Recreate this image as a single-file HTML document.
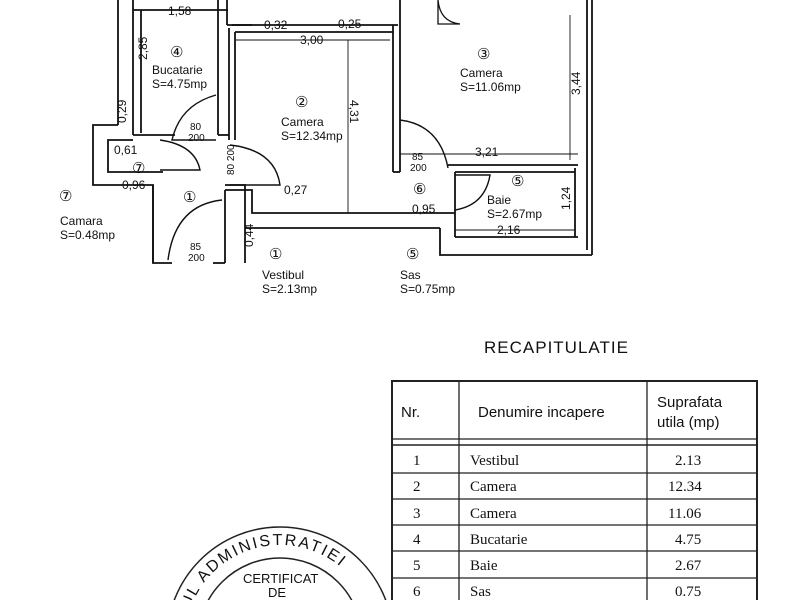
<!DOCTYPE html>
<html><head><meta charset="utf-8"><style>
html,body{margin:0;padding:0;background:#fff;width:800px;height:600px;overflow:hidden;}
svg{display:block}
text{font-family:"Liberation Sans",sans-serif;fill:#111}
.s{font-family:"Liberation Serif",serif}
</style></head><body>
<svg width="800" height="600" viewBox="0 0 800 600" xmlns="http://www.w3.org/2000/svg">
<g stroke="#111" stroke-width="1.8" fill="none">
<line x1="118" y1="0" x2="118" y2="125"/>
<line x1="133" y1="0" x2="133" y2="135"/>
<line x1="141" y1="10" x2="141" y2="133"/>
<line x1="133" y1="10" x2="228" y2="10"/>
<line x1="218" y1="0" x2="218" y2="135"/>
<line x1="227" y1="0" x2="227" y2="25"/>
<line x1="227" y1="25" x2="252" y2="25"/>
<line x1="229" y1="28" x2="229" y2="140"/>
<line x1="235" y1="32" x2="235" y2="140"/>
<line x1="133" y1="135" x2="175" y2="135"/>
<line x1="218" y1="135" x2="229" y2="135"/>
<polyline points="118,125 93,125 93,185 153,185 153,263 172,263"/>
<polyline points="133,140 108,140 108,172 163,172"/>
<line x1="232" y1="25" x2="398" y2="25"/>
<line x1="235" y1="32" x2="393" y2="32"/>
<line x1="393" y1="25" x2="393" y2="172"/>
<line x1="400" y1="0" x2="400" y2="172"/>
<line x1="393" y1="172" x2="400" y2="172"/>
<line x1="348" y1="40" x2="348" y2="213" stroke-width="0.9"/>
<line x1="235" y1="40" x2="390" y2="40" stroke-width="0.9"/>
<line x1="587" y1="0" x2="587" y2="250"/>
<line x1="592" y1="0" x2="592" y2="255"/>
<line x1="400" y1="154" x2="578" y2="154" stroke-width="0.9"/>
<line x1="448" y1="165" x2="578" y2="165"/>
<line x1="455" y1="172" x2="575" y2="172"/>
<line x1="575" y1="168" x2="575" y2="237"/>
<line x1="570" y1="15" x2="570" y2="160" stroke-width="0.9"/>
<path d="M438 0 Q440 22 460 24 L438 24 Z" stroke-width="1.3"/>
<line x1="455" y1="172" x2="455" y2="237"/>
<line x1="455" y1="237" x2="578" y2="237"/>
<line x1="455" y1="230" x2="575" y2="230" stroke-width="0.9"/>
<line x1="255" y1="213" x2="455" y2="213"/>
<line x1="245" y1="228" x2="440" y2="228"/>
<polyline points="440,228 440,255 592,255"/>
<polyline points="225,185 245,185 245,228"/>
<polyline points="225,190 252,190 252,213 255,213"/>
<line x1="225" y1="190" x2="225" y2="263"/>
<polyline points="213,263 225,263"/>
<line x1="245" y1="228" x2="245" y2="263"/>
<line x1="153" y1="185" x2="153" y2="263"/>
<path d="M216 95 Q180 105 172 140 L216 140" stroke-width="1.4"/>
<path d="M230 145 Q275 150 280 185 L230 185" stroke-width="1.4"/>
<path d="M222 200 Q175 205 168 260" stroke-width="1.4"/>
<path d="M160 140 Q195 145 200 170 L160 170" stroke-width="1.4"/>
<path d="M400 120 Q440 125 448 168" stroke-width="1.4"/>
<path d="M455 175 L490 175 Q485 205 455 210" stroke-width="1.4"/>
</g>
<g font-size="12">
<text x="168" y="15">1,58</text>
<text x="264" y="29">0,32</text>
<text x="338" y="28">0,25</text>
<text x="300" y="44">3,00</text>
<text x="147" y="60" transform="rotate(-90 147 60)">2,85</text>
<text x="170" y="57" font-size="15">④</text>
<text x="152" y="74">Bucatarie</text>
<text x="152" y="88">S=4.75mp</text>
<text x="295" y="107" font-size="15">②</text>
<text x="281" y="126">Camera</text>
<text x="281" y="140">S=12.34mp</text>
<text x="350" y="100" transform="rotate(90 350 100)">4,31</text>
<text x="477" y="59" font-size="15">③</text>
<text x="460" y="77">Camera</text>
<text x="460" y="91">S=11.06mp</text>
<text x="580" y="95" transform="rotate(-90 580 95)">3,44</text>
<text x="475" y="156">3,21</text>
<text x="126" y="123" transform="rotate(-90 126 123)">0,29</text>
<text x="114" y="154">0,61</text>
<text x="132" y="173" font-size="15">⑦</text>
<text x="122" y="189">0,96</text>
<text x="183" y="202" font-size="15">①</text>
<text x="190" y="130" font-size="10">80</text><text x="188" y="141" font-size="10">200</text>
<text x="234" y="175" font-size="10" transform="rotate(-90 234 175)">80 200</text>
<text x="284" y="194">0,27</text>
<text x="412" y="160" font-size="10">85</text><text x="410" y="171" font-size="10">200</text>
<text x="413" y="194" font-size="15">⑥</text>
<text x="412" y="213">0,95</text>
<text x="511" y="186" font-size="15">⑤</text>
<text x="487" y="204">Baie</text>
<text x="487" y="218">S=2.67mp</text>
<text x="497" y="234">2,16</text>
<text x="570" y="210" transform="rotate(-90 570 210)">1,24</text>
<text x="190" y="250" font-size="10">85</text><text x="188" y="261" font-size="10">200</text>
<text x="253" y="247" transform="rotate(-90 253 247)">0,44</text>
<text x="269" y="259" font-size="15">①</text>
<text x="262" y="279">Vestibul</text>
<text x="262" y="293">S=2.13mp</text>
<text x="406" y="259" font-size="15">⑤</text>
<text x="400" y="279">Sas</text>
<text x="400" y="293">S=0.75mp</text>
<text x="59" y="201" font-size="15">⑦</text>
<text x="60" y="225">Camara</text>
<text x="60" y="239">S=0.48mp</text>
</g>
<text x="484" y="353" font-size="17" letter-spacing="1">RECAPITULATIE</text>
<g stroke="#222" fill="none">
<rect x="392" y="381" width="365" height="230" stroke-width="2"/>
<line x1="459" y1="381" x2="459" y2="600" stroke-width="1.3"/>
<line x1="647" y1="381" x2="647" y2="600" stroke-width="1.3"/>
<line x1="392" y1="439" x2="757" y2="439" stroke-width="1.3"/>
<line x1="392" y1="445" x2="757" y2="445" stroke-width="1.6"/>
<line x1="392" y1="473" x2="757" y2="473" stroke-width="1.3"/>
<line x1="392" y1="499" x2="757" y2="499" stroke-width="1.3"/>
<line x1="392" y1="525" x2="757" y2="525" stroke-width="1.3"/>
<line x1="392" y1="551" x2="757" y2="551" stroke-width="1.3"/>
<line x1="392" y1="578" x2="757" y2="578" stroke-width="1.3"/>
</g>
<g font-size="15">
<text x="401" y="417">Nr.</text>
<text x="478" y="417">Denumire incapere</text>
<text x="657" y="407">Suprafata</text>
<text x="657" y="427">utila (mp)</text>
</g>
<g font-size="15">
<text class="s" x="413" y="465">1</text><text class="s" x="470" y="465">Vestibul</text><text class="s" x="675" y="465">2.13</text>
<text class="s" x="413" y="491">2</text><text class="s" x="470" y="491">Camera</text><text class="s" x="668" y="491">12.34</text>
<text class="s" x="413" y="518">3</text><text class="s" x="470" y="518">Camera</text><text class="s" x="668" y="518">11.06</text>
<text class="s" x="413" y="544">4</text><text class="s" x="470" y="544">Bucatarie</text><text class="s" x="675" y="544">4.75</text>
<text class="s" x="413" y="570">5</text><text class="s" x="470" y="570">Baie</text><text class="s" x="675" y="570">2.67</text>
<text class="s" x="413" y="596">6</text><text class="s" x="470" y="596">Sas</text><text class="s" x="675" y="596">0.75</text>
</g>
<g stroke="#222" fill="none" stroke-width="1.5">
<circle cx="280" cy="640" r="113"/>
<circle cx="280" cy="640" r="82"/>
</g>
<defs><path id="arc" d="M185 640 A95 95 0 0 1 375 640"/></defs>
<text font-size="16" letter-spacing="2"><textPath href="#arc" startOffset="6%">RUL ADMINISTRATIEI</textPath></text>
<text x="243" y="583" font-size="13">CERTIFICAT</text>
<text x="268" y="597" font-size="13">DE</text>
</svg>
</body></html>
